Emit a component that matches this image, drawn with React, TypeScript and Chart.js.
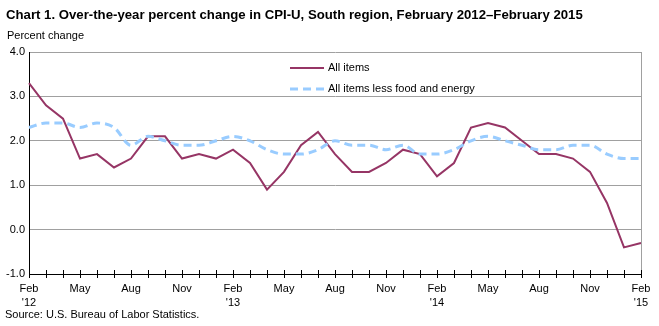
import React, { useEffect, useRef } from "react";
import { Chart, registerables } from "chart.js";

Chart.register(...registerables);

const months = [
  "Feb '12", "Mar", "Apr", "May", "Jun", "Jul", "Aug", "Sep", "Oct", "Nov", "Dec", "Jan",
  "Feb '13", "Mar", "Apr", "May", "Jun", "Jul", "Aug", "Sep", "Oct", "Nov", "Dec", "Jan",
  "Feb '14", "Mar", "Apr", "May", "Jun", "Jul", "Aug", "Sep", "Oct", "Nov", "Dec", "Jan",
  "Feb '15",
];

const allItems = [
  3.3, 2.8, 2.5, 1.6, 1.7, 1.4, 1.6, 2.1, 2.1, 1.6, 1.7, 1.6,
  1.8, 1.5, 0.9, 1.3, 1.9, 2.2, 1.7, 1.3, 1.3, 1.5, 1.8, 1.7,
  1.2, 1.5, 2.3, 2.4, 2.3, 2.0, 1.7, 1.7, 1.6, 1.3, 0.6, -0.4,
  -0.3,
];

const lessFoodEnergy = [
  2.3, 2.4, 2.4, 2.3, 2.4, 2.3, 1.9, 2.1, 2.0, 1.9, 1.9, 2.0,
  2.1, 2.0, 1.8, 1.7, 1.7, 1.8, 2.0, 1.9, 1.9, 1.8, 1.9, 1.7,
  1.7, 1.8, 2.0, 2.1, 2.0, 1.9, 1.8, 1.8, 1.9, 1.9, 1.7, 1.6,
  1.6,
];

const seriesNames = ["All items", "All items less food and energy"];
const titleText =
  "Chart 1. Over-the-year percent change in CPI-U, South region, February 2012\u2013February 2015";
const yAxisTitle = "Percent change";
const sourceText = "Source: U.S. Bureau of Labor Statistics.";

const FONT = "Arial, 'Liberation Sans', sans-serif";
const C_ALL = "#963565";
const C_CORE = "#99CCFF";

const decorPlugin = {
  id: "decor",
  afterDraw(chart: any) {
    const ctx = chart.ctx;
    const area = chart.chartArea;
    const x = chart.scales.x;
    ctx.save();
    // right border
    ctx.strokeStyle = "#a0a0a0";
    ctx.lineWidth = 1;
    ctx.beginPath();
    ctx.moveTo(Math.round(area.right) + 0.5, area.top);
    ctx.lineTo(Math.round(area.right) + 0.5, area.bottom);
    ctx.stroke();
    // x ticks crossing axis
    ctx.strokeStyle = "#000";
    ctx.beginPath();
    for (let i = 0; i < months.length; i++) {
      const px = Math.round(x.getPixelForValue(i)) + 0.5;
      ctx.moveTo(px, area.bottom - 4);
      ctx.lineTo(px, area.bottom + 4);
    }
    ctx.stroke();
    // texts
    ctx.fillStyle = "#000";
    ctx.textBaseline = "middle";
    ctx.textAlign = "left";
    ctx.font = `bold 13.2px ${FONT}`;
    ctx.fillText(titleText, 6, 15, 580);
    ctx.font = `11px ${FONT}`;
    ctx.fillText(yAxisTitle, 7, 36);
    ctx.fillText(sourceText, 5, 315);
    // legend
    const lx = area.left + 261;
    const items = [
      { label: seriesNames[0], color: C_ALL, width: 2, dash: [] as number[], y: 68 },
      { label: seriesNames[1], color: C_CORE, width: 3, dash: [8, 5], y: 89 },
    ];
    for (const it of items) {
      ctx.strokeStyle = it.color;
      ctx.lineWidth = it.width;
      ctx.setLineDash(it.dash);
      ctx.beginPath();
      ctx.moveTo(lx, it.y);
      ctx.lineTo(lx + 34, it.y);
      ctx.stroke();
      ctx.setLineDash([]);
      ctx.fillStyle = "#000";
      ctx.font = `11px ${FONT}`;
      ctx.fillText(it.label, lx + 38, it.y);
    }
    ctx.restore();
  },
};

export default function App() {
  const ref = useRef<HTMLCanvasElement>(null);
  useEffect(() => {
    document.body.style.margin = "0";
    const chart = new Chart(ref.current!, {
      type: "line",
      data: {
        labels: months,
        datasets: [
          {
            label: seriesNames[1],
            data: lessFoodEnergy,
            borderColor: C_CORE,
            borderWidth: 3,
            borderDash: [8, 5],
            pointRadius: 0,
            cubicInterpolationMode: "monotone",
            fill: false,
          },
          {
            label: seriesNames[0],
            data: allItems,
            borderColor: C_ALL,
            borderWidth: 2,
            pointRadius: 0,
            tension: 0,
            fill: false,
          },
        ],
      },
      options: {
        animation: false,
        responsive: false,
        events: [],
        layout: { padding: { top: 52, left: 0, right: 18, bottom: 0 } },
        plugins: {
          legend: { display: false },
          title: { display: false },
          tooltip: { enabled: false },
        },
        scales: {
          x: {
            type: "category",
            offset: false,
            grid: { display: false, drawTicks: false },
            border: { display: true, color: "#000", width: 1 },
            afterFit(scale: any) {
              scale.height = 52;
            },
            ticks: {
              autoSkip: false,
              maxRotation: 0,
              minRotation: 0,
              padding: 8,
              color: "#000",
              font: { family: FONT, size: 11, lineHeight: 1.25 },
              callback: (_v: any, i: number) => {
                if (i % 3 !== 0) return "";
                const s = months[i];
                const parts = s.split(" ");
                return parts.length > 1 ? [parts[0], parts[1]] : s;
              },
            },
          },
          y: {
            min: -1,
            max: 4,
            afterFit(scale: any) {
              scale.width = 29;
            },
            grid: {
              color: "#a0a0a0",
              lineWidth: 1,
              drawTicks: false,
            },
            border: { display: true, color: "#000", width: 1 },
            ticks: {
              stepSize: 1,
              padding: 4,
              color: "#000",
              font: { family: FONT, size: 11 },
              callback: (v: any) => Number(v).toFixed(1),
            },
          },
        },
      },
      plugins: [decorPlugin],
    } as any);
    return () => chart.destroy();
  }, []);
  return <canvas ref={ref} width={659} height={326} style={{ display: "block" }} />;
}
